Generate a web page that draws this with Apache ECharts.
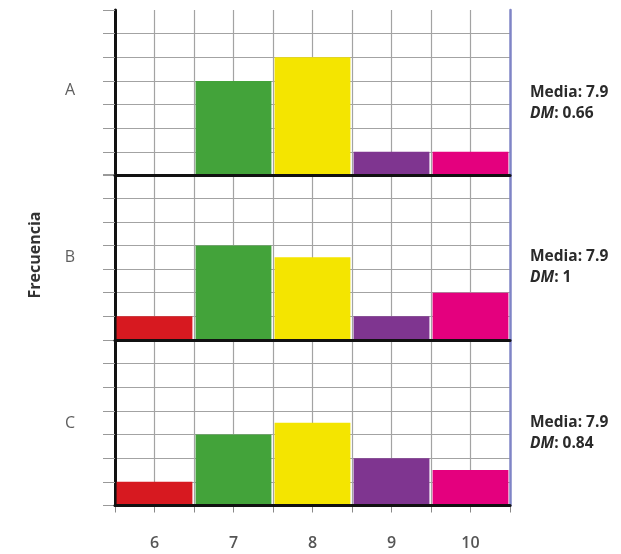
<!DOCTYPE html>
<html>
<head>
<meta charset="utf-8">
<script src="https://cdn.jsdelivr.net/npm/echarts@6/dist/echarts.min.js"></script>
<style>
  html, body { margin: 0; padding: 0; background: #fff; }
  #chart { width: 621px; height: 554px; }
</style>
</head>
<body>
<div id="chart"></div>
<script>
// Score categories on the horizontal axis
const scores = ['6', '7', '8', '9', '10'];
// Group names, one panel per group
const groups = ['A', 'B', 'C'];
// Frequencies per score for each group
const freqA = [0, 4, 5, 1, 1];
const freqB = [1, 4, 3.5, 1, 2];
const freqC = [1, 3, 3.5, 2, 1.5];
// Summary statistics shown beside each panel
const means = ['7.9', '7.9', '7.9'];
const mads = ['0.66', '1', '0.84'];
// One colour per score
const barColors = ['#d71920', '#43a33a', '#f4e500', '#7f3590', '#e4007e'];

const freqs = [freqA, freqB, freqC];
const gridTops = [10, 174.5, 340];
const gridHeight = 165.5;
const gridLeft = 115;
const gridWidth = 395;
const gridGray = '#a3a3a3';
const labelYs = [90, 257, 423];

const grids = [], xAxes = [], yAxes = [], series = [], graphics = [];

groups.forEach((g, i) => {
  const last = i === groups.length - 1;
  grids.push({ left: gridLeft, top: gridTops[i], width: gridWidth, height: gridHeight });

  // category axis: holds the bars and draws the thick baseline
  xAxes.push({
    type: 'category', gridIndex: i, data: scores, position: 'bottom', z: 10,
    axisLine: { show: true, lineStyle: { color: '#111', width: 3 } },
    axisTick: { show: false },
    splitLine: { show: false },
    axisLabel: {
      show: last, margin: 30, color: '#555', fontSize: 16, fontWeight: 600,
      fontFamily: 'Open Sans'
    }
  });
  // value axis: half-step vertical grid lines and the small ticks
  xAxes.push({
    type: 'value', gridIndex: i, min: 5.5, max: 10.5, interval: 0.5, position: 'bottom',
    axisLine: { show: false },
    axisTick: { show: last, length: 7, lineStyle: { color: '#888', width: 1 } },
    axisLabel: { show: false },
    splitLine: { show: true, showMinLine: false, showMaxLine: false,
      lineStyle: { color: gridGray, width: 1.2 } }
  });

  yAxes.push({
    type: 'value', gridIndex: i, min: 0, max: 7, interval: 1, position: 'left',
    axisLine: { show: true, lineStyle: { color: '#111', width: 3 } },
    axisTick: { show: true, length: 12, lineStyle: { color: '#999', width: 1 } },
    axisLabel: { show: false },
    splitLine: { show: true, showMinLine: false, showMaxLine: false,
      lineStyle: { color: gridGray, width: 1.2 } }
  });
  yAxes.push({
    type: 'value', gridIndex: i, min: 0, max: 7, position: 'right',
    axisLine: { show: true, lineStyle: { color: '#7f84c6', width: 2.5 } },
    axisTick: { show: false }, axisLabel: { show: false }, splitLine: { show: false }
  });

  series.push({
    type: 'bar', xAxisIndex: 2 * i, yAxisIndex: 2 * i,
    barCategoryGap: '4%',
    data: freqs[i].map((v, k) => ({ value: v, itemStyle: { color: barColors[k] } }))
  });

  const mid = gridTops[i] + gridHeight / 2;
  graphics.push({
    type: 'text', x: 70, y: labelYs[i], z: 20,
    style: { text: g, fill: '#5e5e5e', fontSize: 16, fontFamily: 'Open Sans',
      align: 'center', verticalAlign: 'middle' }
  });
  graphics.push({
    type: 'text', x: 530, y: mid + 10, z: 20,
    style: {
      text: '{b|Media: ' + means[i] + '}\n{i|DM}{b|: ' + mads[i] + '}',
      align: 'left', verticalAlign: 'middle',
      rich: {
        b: { fontSize: 15.5, fontWeight: 700, fontFamily: 'Open Sans', fill: '#2a2a2a', lineHeight: 21 },
        i: { fontSize: 15.5, fontWeight: 700, fontStyle: 'italic', fontFamily: 'Open Sans', fill: '#2a2a2a', lineHeight: 21 }
      }
    }
  });
});

graphics.push({
  type: 'text', x: 35, y: 255, rotation: Math.PI / 2, z: 20,
  style: { text: 'Frecuencia', fill: '#333', fontSize: 16, fontWeight: 700,
    fontFamily: 'Open Sans', align: 'center', verticalAlign: 'middle' }
});

const chart = echarts.init(document.getElementById('chart'), null, { renderer: 'canvas' });
chart.setOption({
  animation: false,
  backgroundColor: '#fff',
  grid: grids,
  xAxis: xAxes,
  yAxis: yAxes,
  series: series,
  graphic: graphics
});
</script>
</body>
</html>
